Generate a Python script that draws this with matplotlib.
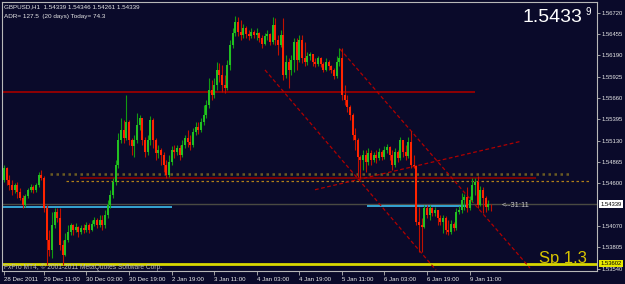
import matplotlib
matplotlib.use('Agg')
import matplotlib.pyplot as plt
import numpy as np

# ---------------- data (GBPUSD H1) ----------------
first_open = 1.5464
close = [1.5479,1.5464,1.5458,1.5452,1.5458,1.5449,1.5442,1.5433,1.5444,1.5452,
1.5455,1.5452,1.5458,1.5470,1.5467,1.5429,1.5389,1.5377,1.5408,1.5424,
1.5417,1.5383,1.5371,1.5389,1.5399,1.5408,1.5402,1.5406,1.5399,1.5404,
1.5402,1.5408,1.5402,1.5409,1.5414,1.5408,1.5414,1.5408,1.5421,1.5433,
1.5445,1.5462,1.5483,1.5514,1.5526,1.5516,1.5536,1.5514,1.5506,1.5514,
1.5532,1.5541,1.5514,1.5499,1.5514,1.5539,1.5514,1.5498,1.5501,1.5495,
1.5483,1.5470,1.5486,1.5501,1.5499,1.5504,1.5495,1.5508,1.5516,1.5511,
1.5508,1.5524,1.5530,1.5526,1.5536,1.5545,1.5557,1.5576,1.5570,1.5582,
1.5601,1.5595,1.5582,1.5579,1.5607,1.5632,1.5647,1.5661,1.5648,1.5644,
1.5653,1.5646,1.5643,1.5648,1.5644,1.5647,1.5641,1.5633,1.5643,1.5646,
1.5636,1.5657,1.5638,1.5632,1.5644,1.5595,1.5611,1.5601,1.5613,1.5636,
1.5613,1.5638,1.5616,1.5611,1.5618,1.5621,1.5611,1.5608,1.5616,1.5608,
1.5601,1.5611,1.5606,1.5601,1.5593,1.5611,1.5616,1.5570,1.5564,1.5555,
1.5545,1.5520,1.5514,1.5493,1.5489,1.5495,1.5486,1.5498,1.5489,1.5495,
1.5491,1.5499,1.5493,1.5501,1.5505,1.5495,1.5483,1.5499,1.5491,1.5514,
1.5499,1.5494,1.5511,1.5483,1.5481,1.5412,1.5408,1.5406,1.5429,1.5421,
1.5429,1.5423,1.5427,1.5417,1.5412,1.5417,1.5402,1.5399,1.5409,1.5404,
1.5424,1.5427,1.5439,1.5443,1.5429,1.5439,1.5458,1.5462,1.5433,1.5452,
1.5442,1.5430,1.5434,1.54339]
high = [1.5483,1.5480,1.5470,1.5464,1.5460,1.5462,1.5454,1.5445,1.5447,1.5454,
1.5459,1.5458,1.5460,1.5474,1.5477,1.5469,1.5433,1.5402,1.5424,1.5429,
1.5429,1.5429,1.5389,1.5398,1.5408,1.5411,1.5409,1.5411,1.5407,1.5408,
1.5409,1.5412,1.5411,1.5414,1.5418,1.5417,1.5421,1.5421,1.5427,1.5439,
1.5452,1.5467,1.5489,1.5523,1.5541,1.5539,1.5570,1.5539,1.5516,1.5520,
1.5547,1.5545,1.5541,1.5518,1.5520,1.5544,1.5541,1.5516,1.5508,1.5504,
1.5499,1.5489,1.5495,1.5506,1.5508,1.5508,1.5508,1.5514,1.5520,1.5526,
1.5520,1.5529,1.5536,1.5536,1.5541,1.5557,1.5564,1.5591,1.5588,1.5591,
1.5611,1.5610,1.5607,1.5595,1.5613,1.5638,1.5653,1.5668,1.5667,1.5663,
1.5658,1.5656,1.5651,1.5653,1.5651,1.5653,1.5648,1.5644,1.5647,1.5651,
1.5647,1.5667,1.5666,1.5644,1.5651,1.5666,1.5620,1.5616,1.5620,1.5641,
1.5641,1.5644,1.5644,1.5636,1.5623,1.5623,1.5621,1.5616,1.5618,1.5617,
1.5611,1.5616,1.5613,1.5607,1.5603,1.5618,1.5628,1.5628,1.5582,1.5570,
1.5557,1.5547,1.5529,1.5516,1.5495,1.5501,1.5501,1.5504,1.5501,1.5499,
1.5501,1.5504,1.5501,1.5506,1.5509,1.5506,1.5501,1.5504,1.5501,1.5518,
1.5514,1.5508,1.5518,1.5525,1.5495,1.5483,1.5430,1.5417,1.5433,1.5433,
1.5433,1.5430,1.5430,1.5427,1.5421,1.5421,1.5419,1.5414,1.5414,1.5412,
1.5429,1.5432,1.5448,1.5447,1.5455,1.5444,1.5467,1.5467,1.5469,1.5457,
1.5455,1.5444,1.5439,1.54346]
low = [1.5462,1.5458,1.5452,1.5445,1.5448,1.5442,1.5439,1.5429,1.5430,1.5442,
1.5449,1.5448,1.5449,1.5455,1.5464,1.5424,1.5358,1.5370,1.5367,1.5404,
1.5412,1.5377,1.5358,1.5370,1.5387,1.5396,1.5396,1.5399,1.5393,1.5397,
1.5398,1.5399,1.5398,1.5401,1.5407,1.5404,1.5406,1.5402,1.5404,1.5417,
1.5429,1.5442,1.5458,1.5479,1.5510,1.5510,1.5514,1.5508,1.5495,1.5493,
1.5510,1.5526,1.5508,1.5493,1.5495,1.5508,1.5504,1.5489,1.5491,1.5483,
1.5474,1.5467,1.5468,1.5483,1.5491,1.5495,1.5489,1.5493,1.5504,1.5505,
1.5501,1.5505,1.5520,1.5521,1.5524,1.5532,1.5541,1.5554,1.5564,1.5566,
1.5576,1.5586,1.5574,1.5572,1.5576,1.5601,1.5628,1.5643,1.5643,1.5638,
1.5641,1.5641,1.5638,1.5641,1.5641,1.5638,1.5636,1.5628,1.5632,1.5638,
1.5632,1.5633,1.5632,1.5620,1.5630,1.5588,1.5591,1.5579,1.5595,1.5598,
1.5601,1.5611,1.5610,1.5606,1.5607,1.5613,1.5606,1.5605,1.5606,1.5605,
1.5598,1.5600,1.5601,1.5597,1.5590,1.5591,1.5606,1.5564,1.5557,1.5549,
1.5539,1.5514,1.5501,1.5468,1.5467,1.5477,1.5474,1.5483,1.5483,1.5486,
1.5485,1.5489,1.5489,1.5490,1.5498,1.5489,1.5477,1.5480,1.5486,1.5489,
1.5493,1.5489,1.5491,1.5479,1.5479,1.5408,1.5375,1.5375,1.5404,1.5417,
1.5414,1.5419,1.5419,1.5408,1.5408,1.5398,1.5397,1.5396,1.5397,1.5401,
1.5402,1.5422,1.5423,1.5427,1.5424,1.5427,1.5437,1.5445,1.5429,1.5432,
1.5423,1.5424,1.5427,1.54261]

price_ticks = [1.56720, 1.56455, 1.56190, 1.55925, 1.55660, 1.55395,
               1.55130, 1.54865, 1.54600, 1.54070, 1.53805, 1.53540]
time_tick_bars = [0, 15, 31, 47, 63, 79, 95, 111, 127, 143, 159, 175]
time_tick_labels = ["28 Dec 2011", "29 Dec 11:00", "30 Dec 03:00", "30 Dec 19:00",
                    "2 Jan 19:00", "3 Jan 11:00", "4 Jan 03:00", "4 Jan 19:00",
                    "5 Jan 11:00", "6 Jan 03:00", "6 Jan 19:00", "9 Jan 11:00"]

bid = 1.54339
sp_level = 1.53602
resist_level, resist_span = 1.5574, (-1, 177)
dotted_level, dotted_span = 1.5472, (17.3, 212.8)
red_mid_level, red_mid_span = 1.5467, (28.6, 200)
dashed_level, dashed_span = 1.5463, (23.3, 220)
cyan1_level, cyan1_span = 1.5431, (-1, 63)
cyan2_level, cyan2_span = 1.5432, (136.5, 174)
trend_bars = [(126.3, 197.7), (98.1, 162.4), (116.9, 194.0)]
trend_prices = [(1.5627, 1.53546), (1.5601, 1.5352), (1.5452, 1.5512)]

# ---------------- figure ----------------
W, H = 625, 284
bg = '#0a0a2a'
fig = plt.figure(figsize=(W / 100, H / 100), dpi=100)
fig.patch.set_facecolor(bg)
ax = fig.add_axes([2 / W, 1 - 271 / H, 595 / W, 269 / H])
ax.set_facecolor(bg)
ax.set_xlim(-0.75, 222.9)
ax.set_ylim(1.53509, 1.56855)

fam = 'Liberation Sans'

# horizontal levels
ax.hlines(resist_level, *resist_span, color='#9a0000', lw=1.3, zorder=1)
ax.hlines(dotted_level, *dotted_span, color='#6a5a22', lw=1.8, linestyles=[(0, (1, 1.4))], zorder=1)
ax.hlines(red_mid_level, *red_mid_span, color='#8a0000', lw=1.2, zorder=1)
ax.hlines(dashed_level, *dashed_span, color='#b08018', lw=0.9, linestyles=[(0, (2, 2))], zorder=1)
ax.axhline(bid, color='#4a4a42', lw=1.0, zorder=1)
ax.hlines(cyan1_level, *cyan1_span, color='#38b0e0', lw=1.3, zorder=1)
ax.hlines(cyan2_level, *cyan2_span, color='#38b0e0', lw=1.3, zorder=1)
ax.axhline(sp_level, color='#d8d800', lw=2.0, zorder=1)

# trend lines
for (xa, xb), (ya, yb) in zip(trend_bars, trend_prices):
    ax.plot([xa, xb], [ya, yb], color='#b00000', lw=0.9, ls=(0, (3, 2)), zorder=2)

# candles
c = np.array(close)
h = np.array(high)
l = np.array(low)
o = np.array([first_open] + close[:-1])
x = np.arange(len(c))
up = c >= o
bot = np.minimum(o, c)
top = np.maximum(o, c)
hi = np.maximum(h, top)
lo = np.minimum(l, bot)
ax.vlines(x[up], lo[up], hi[up], color='#119a11', lw=0.8, zorder=3)
ax.vlines(x[~up], lo[~up], hi[~up], color='#c01000', lw=0.8, zorder=3)
hgt = np.maximum(top - bot, 0.00006)
ax.bar(x[up], hgt[up], bottom=bot[up], width=0.75, color='#22c022', lw=0, zorder=4)
ax.bar(x[~up], hgt[~up], bottom=bot[~up], width=0.75, color='#ff2400', lw=0, zorder=4)

# axes styling
for s in ax.spines.values():
    s.set_color('#b8b8b8')
    s.set_linewidth(0.8)
ax.yaxis.tick_right()
ax.set_yticks(price_ticks)
ax.set_yticklabels([f"{v:.5f}" for v in price_ticks])
ax.tick_params(axis='y', colors='#b8b8b8', labelcolor='#e8e8e8', labelsize=4.2,
               length=2, width=0.6, pad=1.5)
ax.set_xticks(time_tick_bars)
ax.set_xticklabels(time_tick_labels, ha='left')
ax.tick_params(axis='x', colors='#b8b8b8', labelcolor='#e8e8e8', labelsize=4.4,
               length=3, width=0.6, pad=1.5)
for t in ax.get_xticklabels() + ax.get_yticklabels():
    t.set_family(fam)

# price boxes on right axis
ax.annotate(f"{bid:.5f}", xy=(1.0, bid), xycoords=('axes fraction', 'data'),
            xytext=(2.5, 0), textcoords='offset points', va='center', ha='left',
            fontsize=4.2, family=fam, color='black',
            bbox=dict(boxstyle='square,pad=0.25', fc='white', ec='none'))
ax.annotate(f"{sp_level:.5f}", xy=(1.0, sp_level), xycoords=('axes fraction', 'data'),
            xytext=(2.5, 0), textcoords='offset points', va='center', ha='left',
            fontsize=4.2, family=fam, color='black',
            bbox=dict(boxstyle='square,pad=0.25', fc='#e8e800', ec='none'))

# texts
fig.text(4 / W, 1 - 7 / H, "GBPUSD,H1  1.54339 1.54346 1.54261 1.54339", va='center',
         ha='left', fontsize=4.5, family=fam, color='#e8e8e8')
fig.text(4 / W, 1 - 16.5 / H, "ADR= 127.5  (20 days) Today= 74.3", va='center',
         ha='left', fontsize=4.6, family=fam, color='#e8e8e8')
fig.text(523 / W, 1 - 22 / H, "1.5433", va='baseline', ha='left', fontsize=14,
         family=fam, color='white')
fig.text(585 / W, 1 - 15 / H, "9", va='baseline', ha='left', fontsize=7,
         family=fam, color='white')
fig.text(539 / W, 1 - 263 / H, "Sp 1.3", va='baseline', ha='left', fontsize=12,
         family=fam, color='#d8c400')
fig.text(502 / W, 1 - 205.5 / H, "<--31:11", va='center', ha='left', fontsize=5.5,
         family=fam, color='#c8c8c8')
fig.text(4 / W, 1 - 267.5 / H, "FxPro MT4, \u00a9 2001-2011 MetaQuotes Software Corp.",
         va='center', ha='left', fontsize=4.8, family=fam, color='#b8b8b8')

fig.savefig('out.png', dpi=100, facecolor=bg)
